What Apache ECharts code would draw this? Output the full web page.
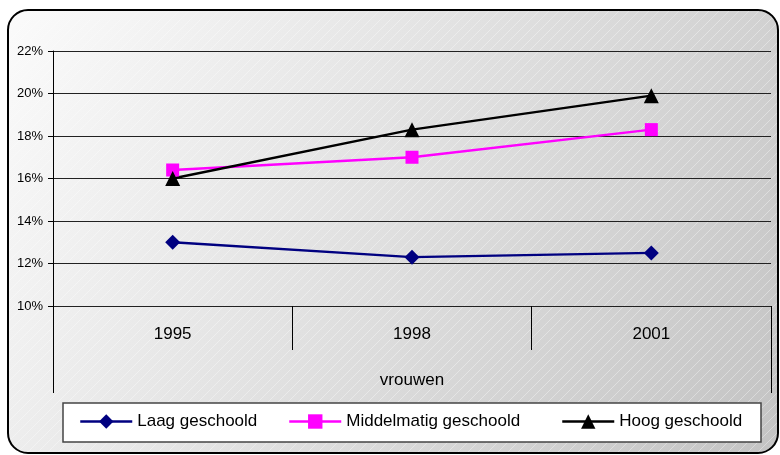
<!DOCTYPE html>
<html lang="nl">
<head>
<meta charset="UTF-8">
<title>vrouwen</title>
<style>
  html, body { margin: 0; padding: 0; background: #fff; }
  #chart { width: 780px; height: 455px; }
</style>
</head>
<body>
<div id="chart"></div>
<script src="https://cdn.jsdelivr.net/npm/echarts@6/dist/echarts.min.js"></script>
<script>
// data
const categories = ['1995', '1998', '2001'];
const groupLabel = ['vrouwen'];
const laag = [13.0, 12.3, 12.5];
const middel = [16.4, 17.0, 18.3];
const hoog = [16.0, 18.3, 19.9];
const seriesNames = ['Laag geschoold', 'Middelmatig geschoold', 'Hoog geschoold'];

const font = 'Liberation Sans, Arial, sans-serif';

// faint diagonal hatching like the excel fill
const hatch = document.createElement('canvas');
hatch.width = 10;
hatch.height = 10;
const hc = hatch.getContext('2d');
hc.strokeStyle = 'rgba(255,255,255,0.35)';
hc.lineWidth = 1;
hc.beginPath();
hc.moveTo(0, 10);
hc.lineTo(10, 0);
hc.stroke();

const chart = echarts.init(document.getElementById('chart'));

function legendFor(name, left) {
  return {
    data: [name],
    left: left,
    top: 413,
    padding: 0,
    itemWidth: 52,
    itemHeight: 18,
    itemGap: 0,
    lineStyle: { width: 2.5 },
    textStyle: { fontFamily: font, fontSize: 17, color: '#000' }
  };
}

chart.setOption({
  animation: false,
  graphic: [
    {
      type: 'rect', z: -3,
      shape: { x: 8, y: 10, width: 770, height: 443, r: 20 },
      style: {
        fill: new echarts.graphic.LinearGradient(0, 0, 1, 1, [
          { offset: 0, color: '#fbfbfb' },
          { offset: 1, color: '#c3c3c3' }
        ])
      }
    },
    {
      type: 'rect', z: -2,
      shape: { x: 9, y: 11, width: 768, height: 441, r: 19 },
      style: { fill: { image: hatch, repeat: 'repeat' } }
    },
    {
      type: 'rect', z: -1,
      shape: { x: 8, y: 10, width: 770, height: 443, r: 20 },
      style: { fill: 'none', stroke: '#000', lineWidth: 2 }
    },
    {
      type: 'rect', z: 3,
      shape: { x: 63, y: 403, width: 698, height: 39 },
      style: { fill: '#fff', stroke: '#444', lineWidth: 1.5 }
    }
  ],
  legend: [
    legendFor(seriesNames[0], 79),
    legendFor(seriesNames[1], 288),
    legendFor(seriesNames[2], 561)
  ],
  grid: { left: 53, right: 9, top: 51, bottom: 149 },
  xAxis: [
    {
      type: 'category',
      data: categories,
      boundaryGap: true,
      axisLine: { show: true, lineStyle: { color: '#222', width: 1 } },
      axisTick: { show: true, interval: 0, length: 44, lineStyle: { color: '#000' } },
      axisLabel: { margin: 20, fontFamily: font, fontSize: 17, color: '#000' }
    },
    {
      type: 'category',
      data: groupLabel,
      position: 'bottom',
      boundaryGap: true,
      axisLine: { show: false },
      axisTick: { show: true, length: 87, lineStyle: { color: '#000' } },
      axisLabel: { margin: 66, fontFamily: font, fontSize: 17, color: '#000' }
    }
  ],
  yAxis: {
    type: 'value',
    min: 10,
    max: 22,
    interval: 2,
    axisLine: { show: true, lineStyle: { color: '#000' } },
    axisTick: { show: true, length: 5, lineStyle: { color: '#000' } },
    axisLabel: { formatter: '{value}%', margin: 10, fontFamily: font, fontSize: 13, color: '#000' },
    splitLine: { show: true, lineStyle: { color: '#222', width: 1 } }
  },
  series: [
    {
      name: seriesNames[0], type: 'line', data: laag,
      symbol: 'diamond', symbolSize: 15,
      lineStyle: { color: '#000080', width: 2.5 },
      itemStyle: { color: '#000080' }
    },
    {
      name: seriesNames[1], type: 'line', data: middel,
      symbol: 'rect', symbolSize: 13,
      lineStyle: { color: '#ff00ff', width: 2.5 },
      itemStyle: { color: '#ff00ff' }
    },
    {
      name: seriesNames[2], type: 'line', data: hoog,
      symbol: 'triangle', symbolSize: 15,
      lineStyle: { color: '#000', width: 2.5 },
      itemStyle: { color: '#000' }
    }
  ]
});
</script>
</body>
</html>
